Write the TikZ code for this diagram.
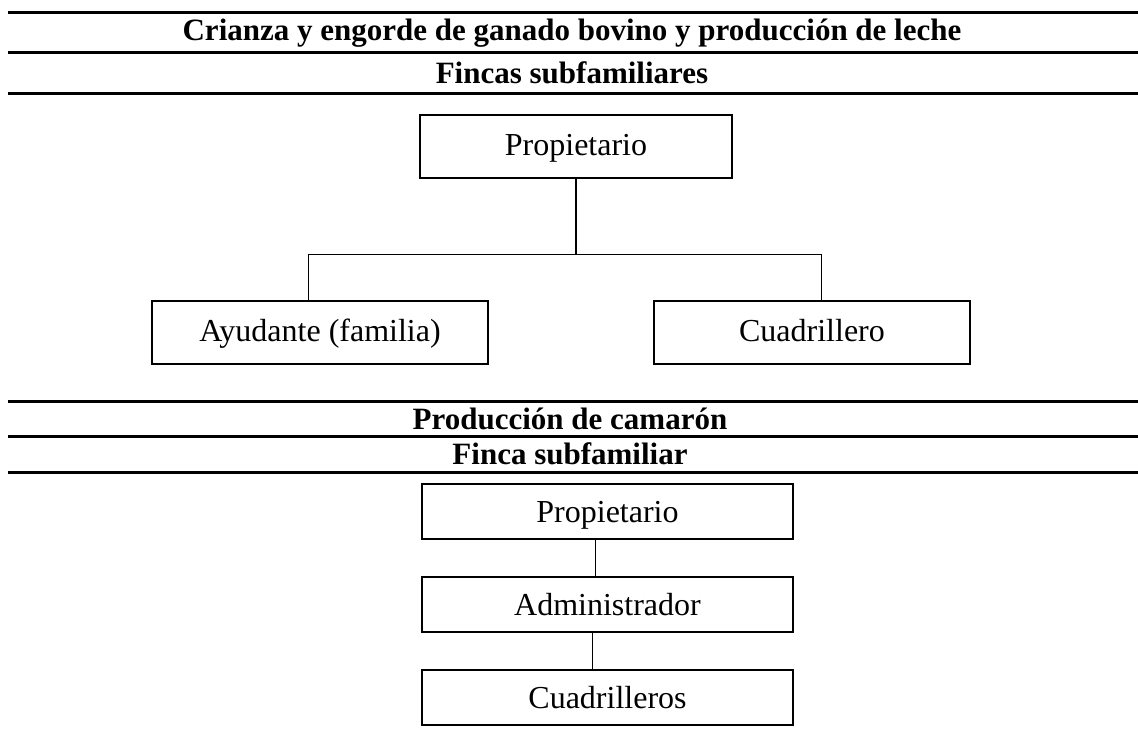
\documentclass[tikz,border=0pt]{standalone}
\usepackage{fontspec}
\setmainfont{Liberation Serif}
\begin{document}
\begin{tikzpicture}[x=1pt,y=-1pt,
  rule/.style={line width=3pt},
  title/.style={font=\fontsize{31}{36}\selectfont\bfseries, inner sep=0pt},
  box/.style={draw, line width=2.5pt, inner sep=0pt, font=\fontsize{32}{38}\selectfont, text depth=0pt},
  topbox/.style={box, minimum height=63pt, text height=18pt},
  lowbox/.style={box, minimum width=371pt, minimum height=55pt, text height=22pt},
  thick link/.style={line width=2pt},
  thin link/.style={line width=1pt}]
\useasboundingbox (0,0) rectangle (1138,752);
% rules
\draw[rule] (8,13) -- (1138,13);
\draw[rule] (8,53) -- (1138,53);
\draw[rule] (8,93) -- (1138,93);
\draw[rule] (8,401) -- (1138,401);
\draw[rule] (8,436) -- (1138,436);
\draw[rule] (8,472) -- (1138,472);
% titles
\node[title] (t1) at (572,33) {Crianza y engorde de ganado bovino y producción de leche};
\node[title] (t2) at (572,73) {Fincas subfamiliares};
\node[title] (t3) at (570,419) {Producción de camarón};
\node[title] (t4) at (570,454) {Finca subfamiliar};
% top tree
\node[topbox, minimum width=312pt] (p1) at (576,146.5) {Propietario};
\node[topbox, minimum width=336pt] (a) at (320,332.5) {Ayudante (familia)};
\node[topbox, minimum width=316pt] (c) at (812,332.5) {Cuadrillero};
\coordinate (j) at (576,254);
\coordinate (dl) at (308,254);
\coordinate (dr) at (821,254);
\draw[thick link] (p1.south) -- (j);
\draw[thin link] (dl) -- (dr);
\draw[thin link] (dl) -- (dl |- a.north);
\draw[thin link] (dr) -- (dr |- c.north);
% bottom chain
\node[lowbox] (p2) at (607.5,511.5) {Propietario};
\node[lowbox] (ad) at (607.5,604.5) {Administrador};
\node[lowbox] (cu) at (607.5,697.5) {Cuadrilleros};
\coordinate (l1) at (595,0);
\coordinate (l2) at (592,0);
\draw[thin link] (l1 |- p2.south) -- (l1 |- ad.north);
\draw[thin link] (l2 |- ad.south) -- (l2 |- cu.north);
\end{tikzpicture}
\end{document}
